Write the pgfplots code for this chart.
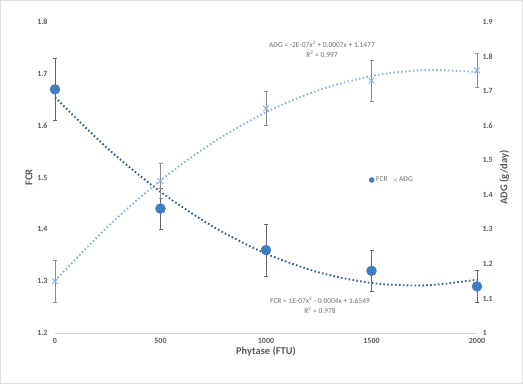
\documentclass[border=0pt]{standalone}
\usepackage{pgfplots}
\pgfplotsset{compat=1.18}
\usepackage{fontspec}
\setmainfont{Carlito}
\definecolor{fcrblue}{HTML}{3E7DC1}
\definecolor{fcrline}{HTML}{2F5F93}
\definecolor{adgblue}{HTML}{8DB3E2}
\definecolor{adgline}{HTML}{8FB4E0}
\definecolor{txtgray}{HTML}{595959}
\definecolor{eqgray}{HTML}{6E6E6E}
\begin{document}
\begin{tikzpicture}[x=1bp,y=1bp]
\draw[draw=gray!25, line width=0.8bp] (0.4,0.4) rectangle (522.6,383.6);
\pgfplotsset{
 common/.style={at={(55bp,51bp)}, anchor=south west, scale only axis,
   width=422bp, height=311bp, xmin=0, xmax=2000,
   xtick={0,500,1000,1500,2000},
   ticklabel style={font=\fontsize{8}{9}\selectfont\bfseries, text=txtgray},
   major tick length=0pt,
   /pgf/number format/assume math mode=true,
   label style={font=\fontsize{10.5}{12}\selectfont\bfseries, text=txtgray},
   clip=false}
}
\begin{axis}[common,
  ymin=1.2, ymax=1.8, ytick={1.2,1.3,1.4,1.5,1.6,1.7,1.8},
  axis x line*=bottom, axis y line*=left,
  x axis line style={draw=gray!35, line width=0.8bp, -},
  y axis line style={draw=none},
  xlabel={Phytase (FTU)}, ylabel={FCR},
  xlabel style={yshift=4bp},
  ylabel style={yshift=-2bp},
  yticklabel style={xshift=-4bp, /pgf/number format/fixed, /pgf/number format/fixed zerofill, /pgf/number format/precision=1},
  xticklabel style={yshift=-2bp, /pgf/number format/1000 sep={}}]
% FCR quadratic trendline
\addplot[fcrline, line width=1.9bp, dash pattern=on 1.6bp off 2.3bp, smooth] coordinates {
 (0,1.6548) (250,1.5558) (500,1.4725) (750,1.4050) (1000,1.3531) (1250,1.3170) (1500,1.2965) (1750,1.2918) (2000,1.3028)};
% FCR error bars
\addplot[draw=none, mark=none, error bars/.cd, y dir=both, y explicit, error bar style={line width=0.7bp, black!60}, error mark options={rotate=90, mark size=2bp, line width=0.7bp, black!60}] coordinates {
 (0,1.67) +- (0,0.06)
 (500,1.44) +- (0,0.04)
 (1000,1.36) +- (0,0.05)
 (1500,1.32) +- (0,0.04)
 (2000,1.29) +- (0,0.03)};
\addplot[only marks, mark=*, mark size=5bp, color=fcrblue, mark options={fill=fcrblue, draw=fcrblue}] coordinates {
 (0,1.67) (500,1.44) (1000,1.36) (1500,1.32) (2000,1.29)};
\node[font=\fontsize{7.5}{8.5}\selectfont, text=eqgray, align=center, inner sep=0pt] at (rel axis cs:{(320-55)/422},{(333-305.5)/311}) {FCR = 1E-07x\textsuperscript{2} - 0.0004x + 1.6549\\[1bp]R\textsuperscript{2} = 0.978};
\node[font=\fontsize{7.5}{8.5}\selectfont, text=eqgray, align=center, inner sep=0pt] at (rel axis cs:{(322-55)/422},{(333-49.5)/311}) {ADG = -2E-07x\textsuperscript{2} + 0.0007x + 1.1477\\[1bp]R\textsuperscript{2} = 0.997};
\end{axis}
\begin{axis}[common,
  ymin=1, ymax=1.9, ytick={1,1.1,1.2,1.3,1.4,1.5,1.6,1.7,1.8,1.9},
  axis x line=none, axis y line*=right,
  y axis line style={draw=none},
  ylabel={ADG (g/day)},
  yticklabel style={xshift=2bp, /pgf/number format/fixed},
  legend style={at={(rel axis cs:{(392-55)/422},{(333-180)/311})}, anchor=center, draw=none, fill=none,
    legend columns=2, font=\fontsize{7.5}{8.5}\selectfont, text=eqgray,
    /tikz/every even column/.append style={column sep=4bp},
    inner sep=0pt, row sep=0pt},
  legend cell align=left]
\addlegendimage{only marks, mark=*, mark size=2.5bp, color=fcrblue}
\addlegendentry{FCR}
\addlegendimage{only marks, mark=x, mark size=2.5bp, color=adgblue}
\addlegendentry{ADG}
\addplot[adgline, line width=1.9bp, dash pattern=on 1.6bp off 2.3bp, smooth, forget plot] coordinates {
 (0,1.1512) (250,1.3080) (500,1.4415) (750,1.5518) (1000,1.6389) (1250,1.7028) (1500,1.7435) (1750,1.7610) (2000,1.7552)};
\addplot[draw=none, mark=none, forget plot, error bars/.cd, y dir=both, y explicit, error bar style={line width=0.7bp, black!45}, error mark options={rotate=90, mark size=2bp, line width=0.7bp, black!45}] coordinates {
 (0,1.15) +- (0,0.06)
 (500,1.44) +- (0,0.05)
 (1000,1.65) +- (0,0.05)
 (1500,1.73) +- (0,0.06)
 (2000,1.76) +- (0,0.05)};
\addplot[only marks, mark=x, mark size=4bp, color=adgblue, line width=0.9bp, forget plot] coordinates {
 (0,1.15) (500,1.44) (1000,1.65) (1500,1.73) (2000,1.76)};
\end{axis}
\end{tikzpicture}
\end{document}
